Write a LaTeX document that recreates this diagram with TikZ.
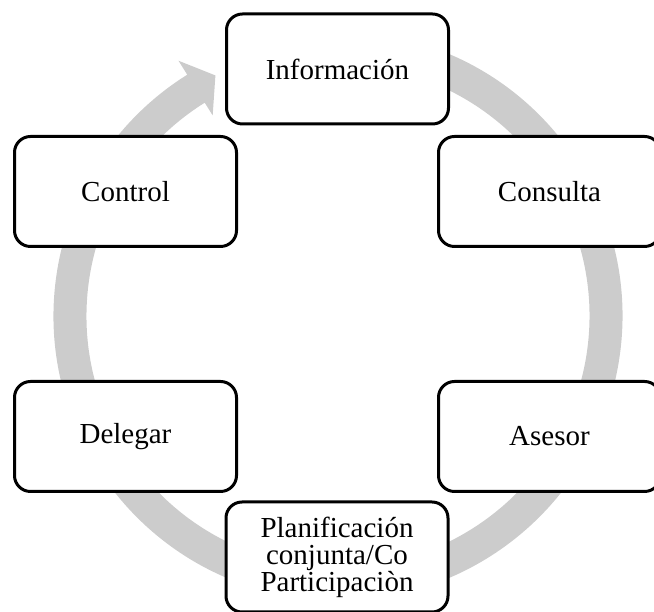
\documentclass[tikz,border=0pt]{standalone}
\usepackage{fontspec}
\setmainfont{Liberation Serif}
\definecolor{ringgray}{HTML}{CCCCCC}
\begin{document}
\begin{tikzpicture}[x=1pt,y=1pt,
  stepbox/.style={draw=black, line width=3pt, fill=white, rounded corners=16pt,
    minimum width=222pt, minimum height=110pt, inner sep=0pt, align=center,
    font=\fontsize{29}{27}\selectfont}]
\useasboundingbox (0,0) rectangle (654,612);
\begin{scope}[shift={(338,296)}]
\fill[ringgray] (122:251.5) arc[start angle=122, end angle=440, radius=251.5]
  -- (440:284.5) arc[start angle=440, end angle=122, radius=284.5]
  -- (122:301) -- (117:270) -- (122:236.5) -- cycle;
\end{scope}
\node[stepbox] (info) at (337.5,543) {Información};
\node[stepbox] (control) at (125.5,420.5) {Control};
\node[stepbox] (consulta) at (549.5,420.5) {Consulta};
\node[stepbox] (delegar) at (125.5,175.5) {Delegar};
\node[stepbox] (asesor) at (549.5,175.5) {Asesor};
\node[stepbox] (plan) at (337,55) {Planificación\\conjunta/Co\\Participaciòn};
\end{tikzpicture}
\end{document}
